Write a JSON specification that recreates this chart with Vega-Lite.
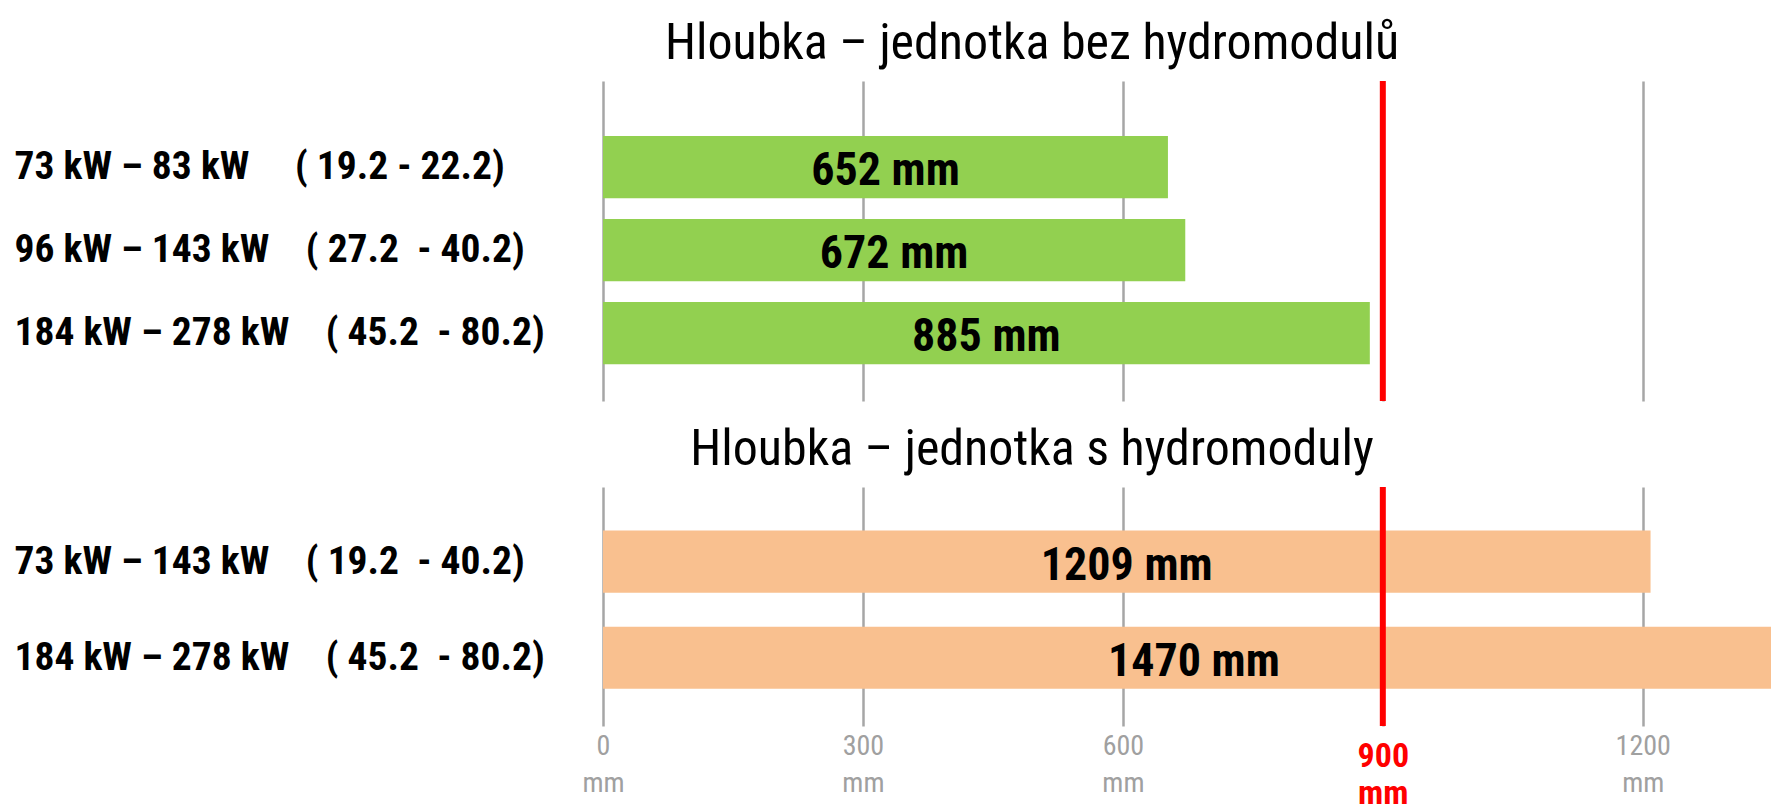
{
  "$schema": "https://vega.github.io/schema/vega-lite/v6.json",
  "padding": {"left": 14, "top": 19, "right": 0, "bottom": 0},
  "background": "white",
  "spacing": 21,
  "config": {
    "view": {"stroke": null},
    "font": "Roboto Condensed, sans-serif",
    "title": {"fontSize": 50, "fontWeight": "normal", "color": "black", "baseline": "alphabetic", "offset": 9, "dx": -155, "font": "Roboto Condensed, sans-serif"},
    "axisY": {"labelAlign": "left", "labelPadding": 589, "ticks": false, "domain": false, "title": null, "labelFontSize": 39.5, "labelFontWeight": "bold", "labelLimit": 0, "labelColor": "black", "grid": false, "labelFont": "Roboto Condensed, sans-serif"}
  },
  "datasets": {
    "rows": [
      {"panel": "top", "label": "73 kW – 83 kW\u00a0\u00a0\u00a0\u00a0\u00a0( 19.2 - 22.2)", "value": 652},
      {"panel": "top", "label": "96 kW – 143 kW\u00a0\u00a0\u00a0\u00a0( 27.2\u00a0\u00a0- 40.2)", "value": 672},
      {"panel": "top", "label": "184 kW – 278 kW\u00a0\u00a0\u00a0\u00a0( 45.2\u00a0\u00a0- 80.2)", "value": 885},
      {"panel": "bottom", "label": "73 kW – 143 kW\u00a0\u00a0\u00a0\u00a0( 19.2\u00a0\u00a0- 40.2)", "value": 1209},
      {"panel": "bottom", "label": "184 kW – 278 kW\u00a0\u00a0\u00a0\u00a0( 45.2\u00a0\u00a0- 80.2)", "value": 1470}
    ],
    "limit": [{"value": 900}]
  },
  "vconcat": [
    {
      "title": "Hloubka – jednotka bez hydromodulů",
      "width": 1168,
      "height": 320,
      "layer": [
        {
          "data": {"name": "rows"},
          "transform": [{"filter": "datum.panel == 'top'"}],
          "mark": {"type": "bar", "color": "#92d050", "clip": true},
          "encoding": {
            "y": {"field": "label", "type": "nominal", "sort": null, "scale": {"paddingInner": 0.25, "paddingOuter": 0.553, "align": 0.6}},
            "x": {"field": "value", "type": "quantitative", "scale": {"domain": [0, 1348], "nice": false, "zero": true},
                  "axis": {"orient": "bottom", "values": [0, 300, 600, 900, 1200], "grid": true, "gridColor": "#a6a6a6", "gridWidth": 2.5, "gridOpacity": 1, "labels": false, "ticks": false, "domain": false, "title": null}}
          }
        },
        {
          "data": {"name": "limit"},
          "mark": {"type": "rule", "color": "#ff0000", "strokeWidth": 6},
          "encoding": {"x": {"field": "value", "type": "quantitative"}}
        },
        {
          "data": {"name": "rows"},
          "transform": [{"filter": "datum.panel == 'top'"}, {"calculate": "min(datum.value, 1364) / 2", "as": "mid"}, {"calculate": "datum.value + ' mm'", "as": "txt"}],
          "mark": {"type": "text", "fontSize": 46, "fontWeight": "bold", "color": "black", "baseline": "middle", "align": "center", "dy": 4},
          "encoding": {
            "y": {"field": "label", "type": "nominal", "sort": null},
            "x": {"field": "mid", "type": "quantitative"},
            "text": {"field": "txt"}
          }
        }
      ]
    },
    {
      "title": "Hloubka – jednotka s hydromoduly",
      "width": 1168,
      "height": 239,
      "layer": [
        {
          "data": {"name": "rows"},
          "transform": [{"filter": "datum.panel == 'bottom'"}],
          "mark": {"type": "bar", "color": "#f9c08f", "clip": true},
          "encoding": {
            "y": {"field": "label", "type": "nominal", "sort": null, "scale": {"paddingInner": 0.354, "paddingOuter": 0.42, "align": 0.54}},
            "x": {"field": "value", "type": "quantitative", "scale": {"domain": [0, 1348], "nice": false, "zero": true},
                  "axis": {"orient": "bottom", "values": [0, 300, 600, 900, 1200], "format": "d", "grid": true, "gridColor": "#a6a6a6", "gridWidth": 2.5, "gridOpacity": 1, "ticks": false, "domain": false, "title": null,
                           "labelExpr": "[datum.label, 'mm']", "labelFontSize": {"condition": {"test": "datum.value == 900", "value": 34}, "value": 28},
                           "labelFontWeight": {"condition": {"test": "datum.value == 900", "value": "bold"}, "value": "normal"},
                           "labelColor": {"condition": {"test": "datum.value == 900", "value": "#ff0000"}, "value": "#a0a0a0"},
                           "labelPadding": {"condition": {"test": "datum.value == 900", "value": 13}, "value": 6},
                           "labelLineHeight": 37, "labelFont": "Roboto Condensed, sans-serif", "labelFlush": false, "labelOverlap": false}}
          }
        },
        {
          "data": {"name": "limit"},
          "mark": {"type": "rule", "color": "#ff0000", "strokeWidth": 6},
          "encoding": {"x": {"field": "value", "type": "quantitative"}}
        },
        {
          "data": {"name": "rows"},
          "transform": [{"filter": "datum.panel == 'bottom'"}, {"calculate": "min(datum.value, 1364) / 2", "as": "mid"}, {"calculate": "datum.value + ' mm'", "as": "txt"}],
          "mark": {"type": "text", "fontSize": 46, "fontWeight": "bold", "color": "black", "baseline": "middle", "align": "center", "dy": 4},
          "encoding": {
            "y": {"field": "label", "type": "nominal", "sort": null},
            "x": {"field": "mid", "type": "quantitative"},
            "text": {"field": "txt"}
          }
        }
      ]
    }
  ]
}
